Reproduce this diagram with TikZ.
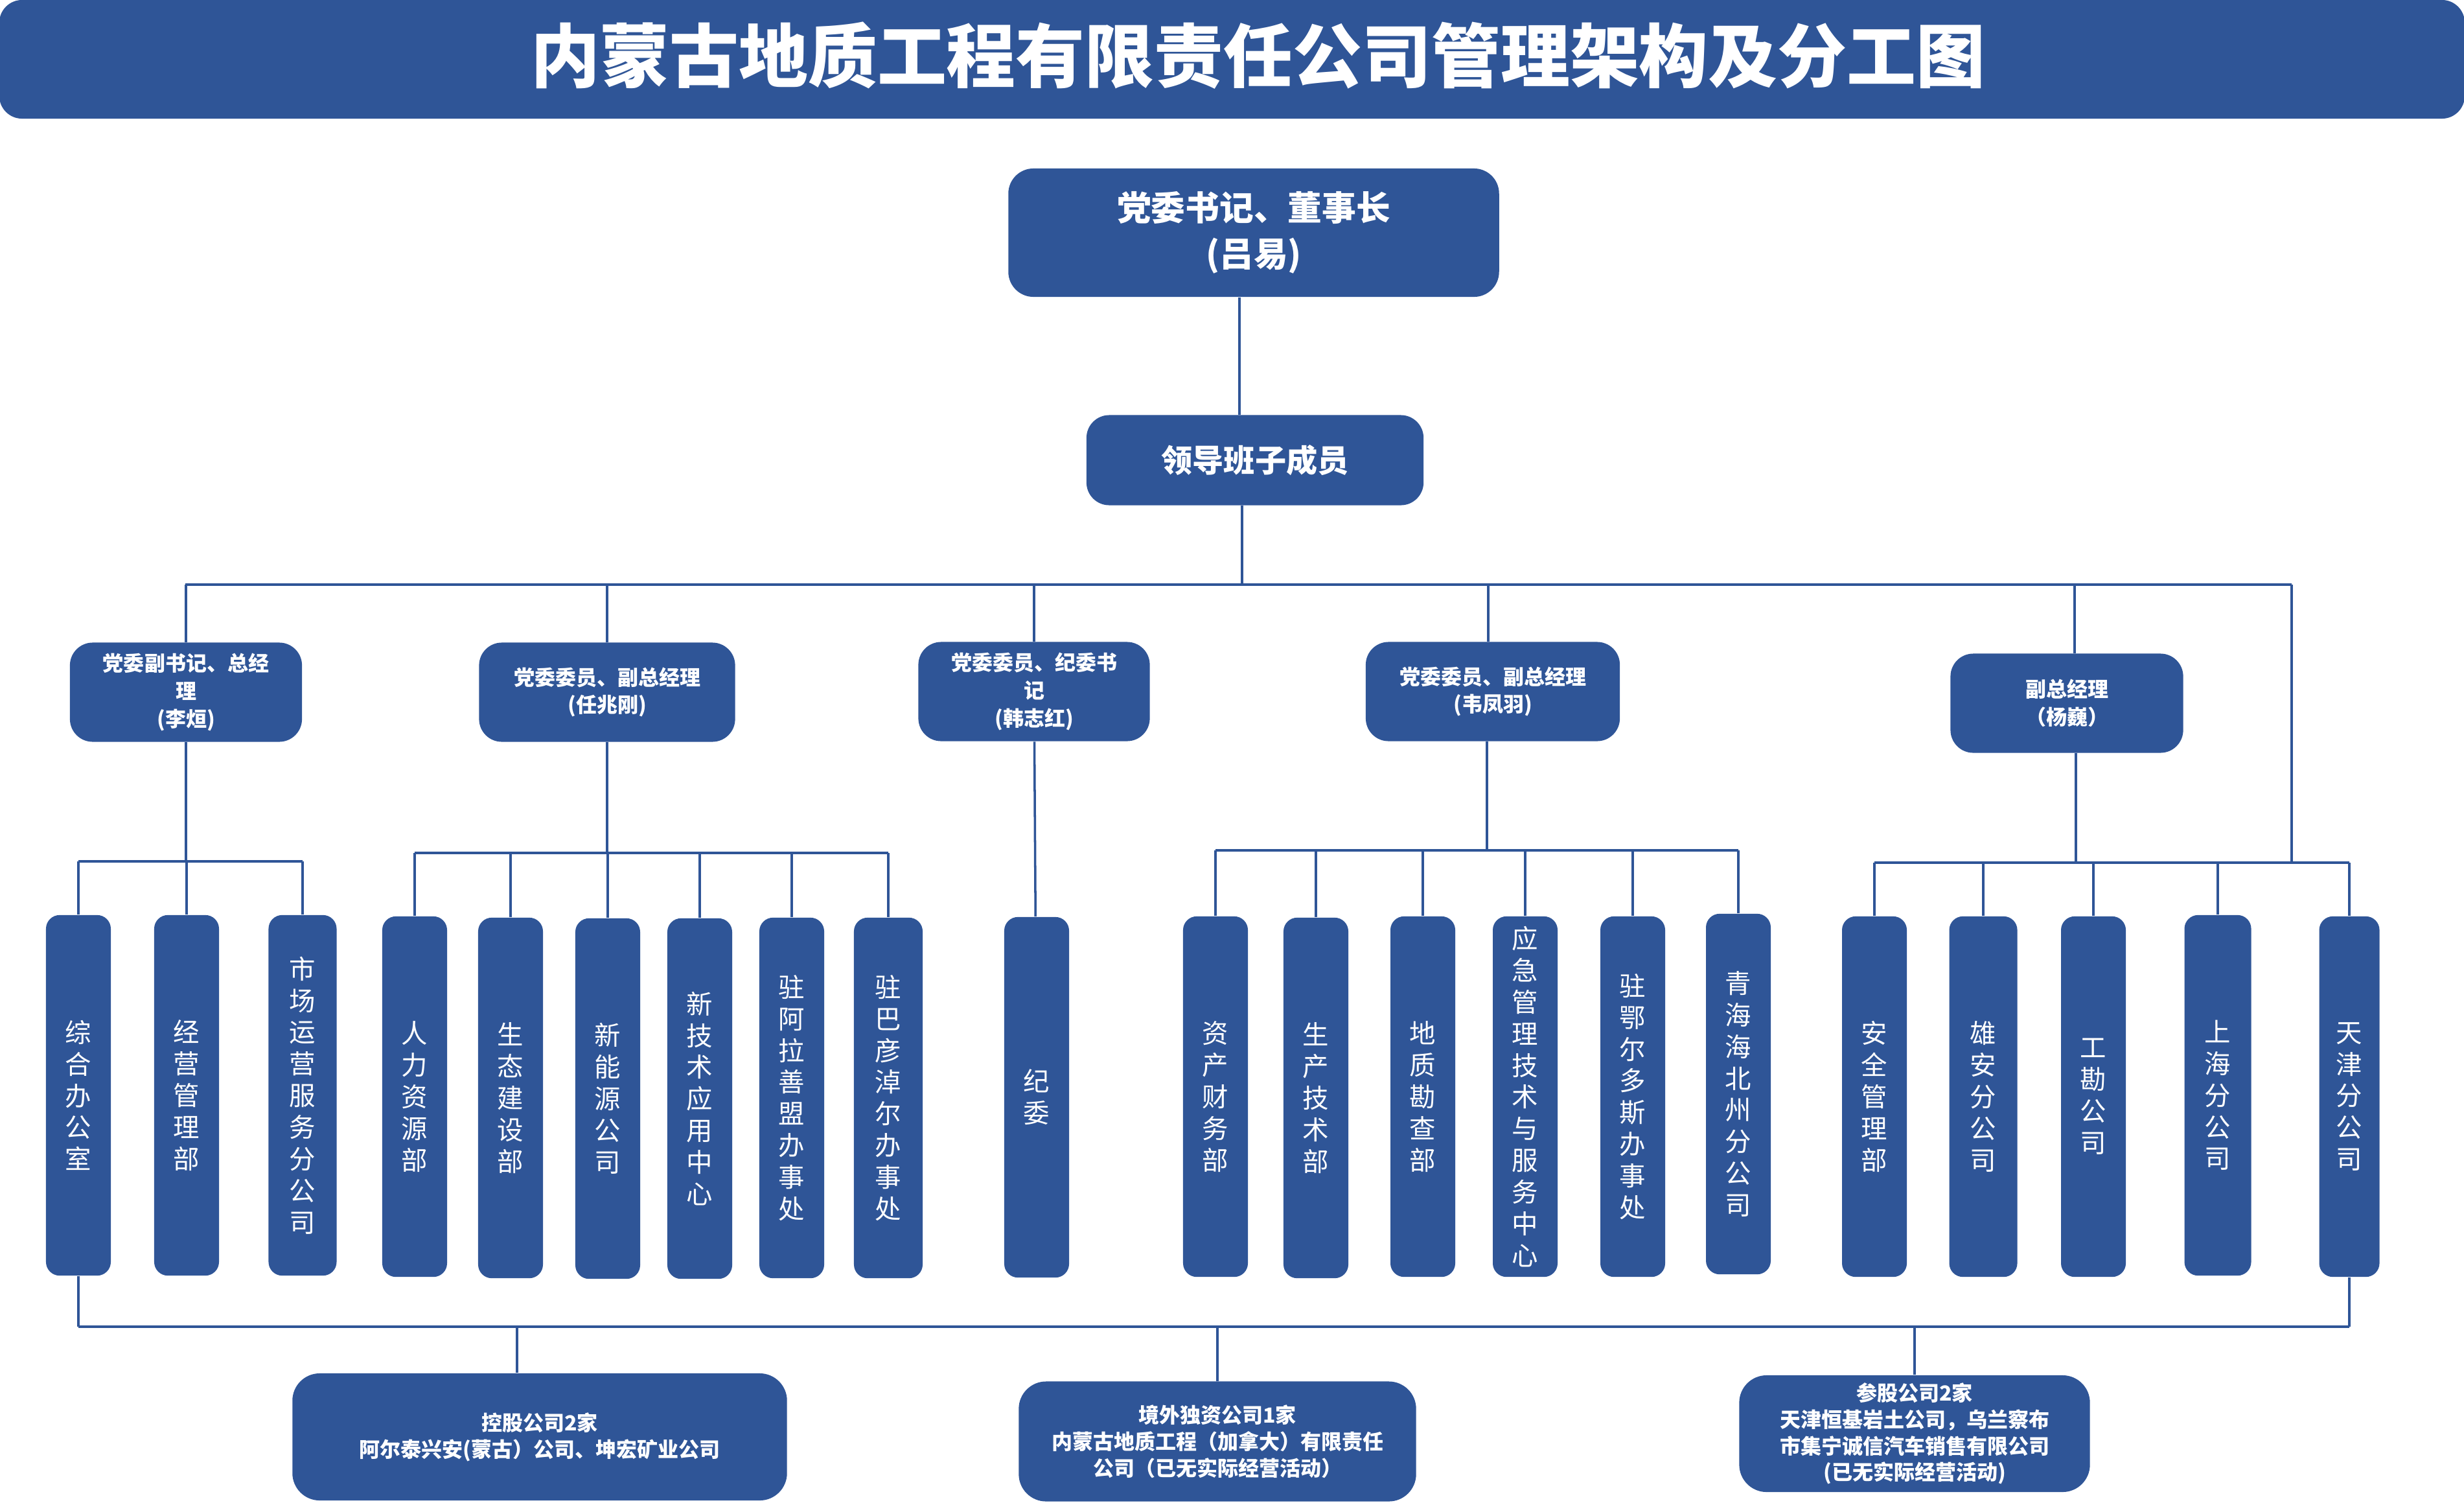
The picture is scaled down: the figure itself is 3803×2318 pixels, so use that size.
\documentclass[tikz,border=0pt]{standalone}
\usepackage{fontspec}
\setmainfont{Noto Sans CJK SC}
\definecolor{navy}{RGB}{47,85,151}

\begin{document}
\begin{tikzpicture}[
    x=0.01cm, y=-0.01cm,
    box/.style={rectangle, fill=navy, text=white, align=center, inner sep=0pt},
    banner/.style={box, rounded corners=10pt, minimum width=38.03cm, minimum height=1.83cm},
    chairbox/.style={box, rounded corners=11pt, minimum width=7.57cm, minimum height=1.98cm, font=\fontsize{15}{20}\selectfont\bfseries},
    leadbox/.style={box, rounded corners=10pt, minimum width=5.2cm, minimum height=1.39cm, font=\fontsize{13.7}{16}\selectfont\bfseries},
    mgr/.style={box, rounded corners=10pt, minimum height=1.53cm, font=\fontsize{9.1}{12.2}\selectfont\bfseries},
    dept/.style={box, rounded corners=6pt, minimum width=1cm, minimum height=5.56cm, font=\fontsize{11.5}{13.9}\selectfont},
    sub/.style={box, rounded corners=12pt, font=\fontsize{9.1}{11.6}\selectfont\bfseries},
    link/.style={draw=navy, line width=1pt},
]
\useasboundingbox (0,0) rectangle (3803,2318);

% title
\node[banner] (banner) at (1901.5,91.5) {};
\node[text=white, font=\fontsize{30.4}{34}\selectfont\bfseries] (title) at (1942,86) {内蒙古地质工程有限责任公司管理架构及分工图};

% top
\node[chairbox] (chair) at (1935,359) {党委书记、董事长\\(吕易)};
\node[leadbox]  (lead)  at (1937,710) {领导班子成员};

% leaders
\node[mgr, minimum width=3.58cm] (li)   at (287,1068)  {党委副书记、总经\\理\\(李烜)};
\node[mgr, minimum width=3.95cm] (ren)  at (937,1068)  {党委委员、副总经理\\(任兆刚)};
\node[mgr, minimum width=3.57cm] (han)  at (1596,1067) {党委委员、纪委书\\记\\(韩志红)};
\node[mgr, minimum width=3.92cm] (wei)  at (2304,1067) {党委委员、副总经理\\(韦凤羽)};
\node[mgr, minimum width=3.59cm] (yang) at (3190,1085) {副总经理\\（杨巍）};

% departments
\node[dept] (zonghe)    at (121,1690)  {综\\合\\办\\公\\室};
\node[dept] (jingying)  at (288,1690)  {经\\营\\管\\理\\部};
\node[dept, minimum width=1.05cm] (shichang) at (467,1690) {市\\场\\运\\营\\服\\务\\分\\公\\司};
\node[dept] (renli)     at (640,1692)  {人\\力\\资\\源\\部};
\node[dept] (shengtai)  at (788,1694)  {生\\态\\建\\设\\部};
\node[dept] (xinneng)   at (938,1695)  {新\\能\\源\\公\\司};
\node[dept] (xinjishu)  at (1080,1695) {新\\技\\术\\应\\用\\中\\心};
\node[dept] (alashan)   at (1222,1694) {驻\\阿\\拉\\善\\盟\\办\\事\\处};
\node[dept, minimum width=1.06cm] (bayan) at (1371,1694) {驻\\巴\\彦\\淖\\尔\\办\\事\\处};
\node[dept] (jiwei)     at (1600,1693) {纪\\委};
\node[dept] (zichan)    at (1876,1692) {资\\产\\财\\务\\部};
\node[dept] (shengchan) at (2031,1694) {生\\产\\技\\术\\部};
\node[dept] (dizhi)     at (2196,1692) {地\\质\\勘\\查\\部};
\node[dept] (yingji)    at (2354,1692) {应\\急\\管\\理\\技\\术\\与\\服\\务\\中\\心};
\node[dept] (eerduosi)  at (2520,1692) {驻\\鄂\\尔\\多\\斯\\办\\事\\处};
\node[dept] (qinghai)   at (2683,1688) {青\\海\\海\\北\\州\\分\\公\\司};
\node[dept] (anquan)    at (2893,1692) {安\\全\\管\\理\\部};
\node[dept, minimum width=1.05cm] (xiongan) at (3061,1692) {雄\\安\\分\\公\\司};
\node[dept] (gongkan)   at (3231,1692) {工\\勘\\公\\司};
\node[dept, minimum width=1.03cm] (shanghai) at (3423,1690) {上\\海\\分\\公\\司};
\node[dept, minimum width=0.93cm] (tianjin)  at (3626,1692) {天\\津\\分\\公\\司};

% holdings
\node[sub, minimum width=7.63cm, minimum height=1.96cm] (konggu)  at (833,2217)  {控股公司2家\\阿尔泰兴安(蒙古）公司、坤宏矿业公司};
\node[sub, minimum width=6.13cm, minimum height=1.85cm] (jingwai) at (1879,2224) {境外独资公司1家\\内蒙古地质工程（加拿大）有限责任\\公司（已无实际经营活动）};
\node[sub, minimum width=5.41cm, minimum height=1.8cm]  (cangu)   at (2955,2212) {参股公司2家\\天津恒基岩土公司，乌兰察布\\市集宁诚信汽车销售有限公司\\(已无实际经营活动)};

% bus lines
\coordinate (busL) at (286,902);
\coordinate (busR) at (3537,902);
\coordinate (g1) at (0,1329);
\coordinate (g2) at (0,1316);
\coordinate (g4) at (0,1312);
\coordinate (g5) at (0,1331);
\coordinate (g6) at (0,2047);

\draw[link] ([xshift=-0.22cm]chair.south) -- ([xshift=-0.22cm]chair.south |- lead.north);
\draw[link] ([xshift=-0.2cm]lead.south) -- ([xshift=-0.2cm]lead.south |- busL);
\draw[link] (busL) -- (busR);
\draw[link] (busR) -- (busR |- g5);
\draw[link] (li) -- (li |- busL);
\draw[link] (ren) -- (ren |- busL);
\draw[link] (han) -- (han |- busL);
\draw[link] ([xshift=-0.07cm]wei.north) -- ([xshift=-0.07cm]wei.north |- busL);
\draw[link] ([xshift=0.12cm]yang.north) -- ([xshift=0.12cm]yang.north |- busL);

\draw[link] (zonghe |- g1) -- (shichang |- g1);
\draw[link] (li) -- (li |- g1);
\draw[link] (zonghe) -- (zonghe |- g1);
\draw[link] (jingying) -- (jingying |- g1);
\draw[link] (shichang) -- (shichang |- g1);

\draw[link] (renli |- g2) -- (bayan |- g2);
\draw[link] (ren) -- (ren |- g2);
\draw[link] (renli) -- (renli |- g2);
\draw[link] (shengtai) -- (shengtai |- g2);
\draw[link] (xinneng) -- (xinneng |- g2);
\draw[link] (xinjishu) -- (xinjishu |- g2);
\draw[link] (alashan) -- (alashan |- g2);
\draw[link] (bayan) -- (bayan |- g2);

\draw[link] (han) -- (jiwei);

\draw[link] (zichan |- g4) -- (qinghai |- g4);
\draw[link] ([xshift=-0.09cm]wei.south) -- ([xshift=-0.09cm]wei.south |- g4);
\draw[link] (zichan) -- (zichan |- g4);
\draw[link] (shengchan) -- (shengchan |- g4);
\draw[link] (dizhi) -- (dizhi |- g4);
\draw[link] (yingji) -- (yingji |- g4);
\draw[link] (eerduosi) -- (eerduosi |- g4);
\draw[link] (qinghai) -- (qinghai |- g4);

\draw[link] (anquan |- g5) -- (tianjin |- g5);
\draw[link] ([xshift=0.14cm]yang.south) -- ([xshift=0.14cm]yang.south |- g5);
\draw[link] (anquan) -- (anquan |- g5);
\draw[link] (xiongan) -- (xiongan |- g5);
\draw[link] (gongkan) -- (gongkan |- g5);
\draw[link] (shanghai) -- (shanghai |- g5);
\draw[link] (tianjin) -- (tianjin |- g5);

\draw[link] (zonghe |- g6) -- (tianjin |- g6);
\draw[link] (zonghe) -- (zonghe |- g6);
\draw[link] (tianjin) -- (tianjin |- g6);
\draw[link] ([xshift=-0.35cm]konggu.north) -- ([xshift=-0.35cm]konggu.north |- g6);
\draw[link] (jingwai) -- (jingwai |- g6);
\draw[link] (cangu) -- (cangu |- g6);
\end{tikzpicture}
\end{document}
